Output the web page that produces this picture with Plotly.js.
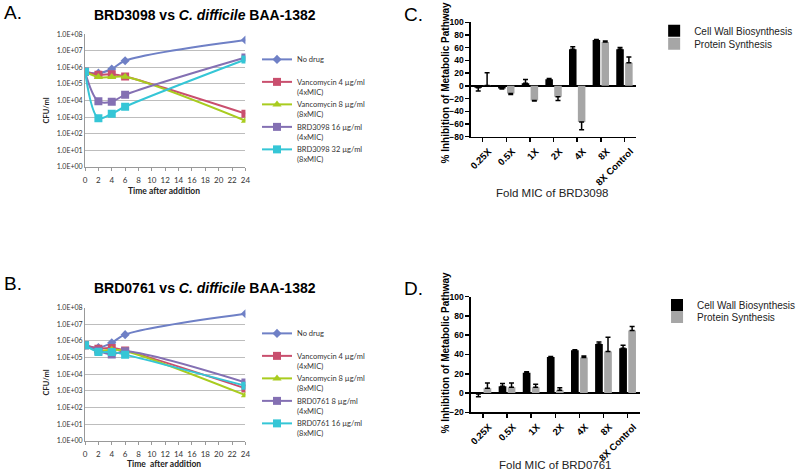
<!DOCTYPE html>
<html><head><meta charset="utf-8">
<script src="https://cdn.plot.ly/plotly-3.0.1.min.js"></script>
<style>html,body{margin:0;padding:0;background:#fff}</style>
</head><body><div id="chart" style="width:800px;height:470px"></div>
<script>
// ---------- Time-kill curves (panels A and B) ----------
const timeHours = [0, 2, 4, 6, 24];
const timeTicks = [0, 2, 4, 6, 8, 10, 12, 14, 16, 18, 20, 22, 24];
const logTickVals = [1, 10, 100, 1e3, 1e4, 1e5, 1e6, 1e7, 1e8];
const logTickText = ["1.0E+00", "1.0E+01", "1.0E+02", "1.0E+03", "1.0E+04", "1.0E+05", "1.0E+06", "1.0E+07", "1.0E+08"];

const seriesNamesA = ["No drug<br>\u00a0", "Vancomycin 4 µg/ml<br>(4xMIC)", "Vancomycin 8 µg/ml<br>(8xMIC)", "BRD3098 16 µg/ml<br>(4xMIC)", "BRD3098 32 µg/ml<br>(8xMIC)"];
const noDrugA = [5.5e5, 4.5e5, 8e5, 2.5e6, 4.5e7];
const vanc4A  = [5.5e5, 3.6e5, 3.8e5, 2.8e5, 1.6e3];
const vanc8A  = [5.5e5, 2.6e5, 2.6e5, 2.7e5, 6e2];
const brd16A  = [5.5e5, 9e3, 8.5e3, 2.2e4, 4e6];
const brd32A  = [5.5e5, 8.5e2, 1.6e3, 4.2e3, 3e6];

const seriesNamesB = ["No drug<br>\u00a0", "Vancomycin 4 µg/ml<br>(4xMIC)", "Vancomycin 8 µg/ml<br>(8xMIC)", "BRD0761 8 µg/ml<br>(4xMIC)", "BRD0761 16 µg/ml<br>(8xMIC)"];
const noDrugB = [5.5e5, 4e5, 7.8e5, 2.4e6, 4.3e7];
const vanc4B  = [5.5e5, 3.4e5, 3.8e5, 2.7e5, 1.4e3];
const vanc8B  = [5.5e5, 2.6e5, 3e5, 2.5e5, 5.5e2];
const brd8B   = [5.5e5, 2.6e5, 1.55e5, 2.4e5, 3.2e3];
const brd16B  = [5.5e5, 2.2e5, 2.2e5, 1.5e5, 2e3];

// ---------- Metabolic pathway inhibition (panels C and D) ----------
const micCategories = ["0.25X", "0.5X", "1X", "2X", "4X", "8X", "8X Control"];
const barNames = ["Cell Wall Biosynthesis", "Protein Synthesis"];
const cellWallC    = [-3, -4, 4, 10.5, 57.5, 72, 57.5];
const cellWallErrC = [5, 1, 6, 1, 4, 1, 3];
const proteinC     = [0.5, -12, -23, -17, -57, 69, 36.5];
const proteinErrC  = [20, 1.5, 1, 6, 12, 1.5, 9];
const cellWallD    = [-1, 7, 21, 37.5, 44.5, 51, 46.5];
const cellWallErrD = [2.8, 3, 1, 0.5, 0.5, 2, 3];
const proteinD     = [5, 6, 6, 3, 37, 43, 65];
const proteinErrD  = [5.5, 4.5, 3, 2.5, 1.5, 15, 4];

const lineColors = ["#6f80c6", "#c94f6e", "#a9cc1f", "#8470b3", "#35c6d6"];
const lineSymbols = ["diamond", "square", "triangle-up", "square", "square"];
const lineSizes = [7, 8, 8, 8, 8];

const W = 800, H = 470;
const px = v => v / W;
const py = v => 1 - v / H;

function lineTrace(y, i, names, xa, ya, leg) {
  return {
    type: "scatter", mode: "lines+markers", x: timeHours, y: y, name: names[i],
    xaxis: xa, yaxis: ya, legend: leg,
    line: {color: lineColors[i], width: 2, shape: "spline", smoothing: 1},
    marker: {color: lineColors[i], symbol: lineSymbols[i], size: lineSizes[i]},
    hoverinfo: "skip"
  };
}
function barTrace(y, err, name, color, xa, ya, leg) {
  return {
    type: "bar", x: micCategories, y: y, name: name, xaxis: xa, yaxis: ya, legend: leg,
    marker: {color: color, line: {width: 0}},
    error_y: {type: "data", symmetric: false,
      array: y.map((v, i) => v >= 0 ? err[i] : 0),
      arrayminus: y.map((v, i) => v < 0 ? err[i] : 0),
      color: "#000", thickness: 1.5, width: 2.5},
    hoverinfo: "skip"
  };
}

const data = [
  lineTrace(noDrugA, 0, seriesNamesA, "x", "y", "legend"),
  lineTrace(vanc4A, 1, seriesNamesA, "x", "y", "legend"),
  lineTrace(vanc8A, 2, seriesNamesA, "x", "y", "legend"),
  lineTrace(brd16A, 3, seriesNamesA, "x", "y", "legend"),
  lineTrace(brd32A, 4, seriesNamesA, "x", "y", "legend"),
  lineTrace(noDrugB, 0, seriesNamesB, "x2", "y2", "legend2"),
  lineTrace(vanc4B, 1, seriesNamesB, "x2", "y2", "legend2"),
  lineTrace(vanc8B, 2, seriesNamesB, "x2", "y2", "legend2"),
  lineTrace(brd8B, 3, seriesNamesB, "x2", "y2", "legend2"),
  lineTrace(brd16B, 4, seriesNamesB, "x2", "y2", "legend2"),
  barTrace(cellWallC, cellWallErrC, barNames[0], "#000000", "x3", "y3", "legend3"),
  barTrace(proteinC, proteinErrC, barNames[1], "#a6a6a6", "x3", "y3", "legend4"),
  barTrace(cellWallD, cellWallErrD, barNames[0], "#000000", "x4", "y4", "legend5"),
  barTrace(proteinD, proteinErrD, barNames[1], "#a6a6a6", "x4", "y4", "legend6")
];

const xlFont = {family: "Lato, 'Liberation Sans', sans-serif", size: 7.5, color: "#333"};
const gpFont = {family: "'Liberation Sans', Arial, sans-serif", size: 8.5, color: "#000", weight: 700};

function timeX(anchor) {
  return {domain: [px(88), px(254)], anchor: anchor, range: [0, 24], tickvals: timeTicks,
    showgrid: false, zeroline: false, showline: true, linecolor: "#999", linewidth: 1,
    ticks: "outside", ticklen: 3, tickcolor: "#999", ticklabelstandoff: 3,
    tickfont: {...xlFont, size: 8}, fixedrange: true};
}
function logY(anchor, top, bottom) {
  return {domain: [py(bottom), py(top)], anchor: anchor, type: "log", range: [0, 8],
    tickvals: logTickVals, ticktext: logTickText, showgrid: true, gridcolor: "#bdbdbd", gridwidth: 1,
    zeroline: false, showline: true, linecolor: "#999", ticks: "", tickfont: {...xlFont, size: 7}, fixedrange: true};
}
function catX(anchor, left, right) {
  return {domain: [px(left), px(right)], anchor: anchor, type: "category", range: [-0.5, 6.5],
    showgrid: false, zeroline: false, showline: true, linecolor: "#000", linewidth: 1.5,
    ticks: "outside", ticklen: 4, tickwidth: 1.5, tickcolor: "#000", tickangle: -45,
    ticklabelshift: 6, tickfont: {...gpFont, size: 9.5}, fixedrange: true};
}
function pctY(anchor, top, bottom, lo) {
  return {domain: [py(bottom), py(top)], anchor: anchor, range: [lo, 100], tick0: 0, dtick: 20,
    showgrid: false, zeroline: true, zerolinecolor: "#000", zerolinewidth: 1.5,
    showline: true, linecolor: "#000", linewidth: 1.5, ticks: "outside", ticklen: 4, tickwidth: 1.5,
    tickcolor: "#000", tickfont: gpFont, fixedrange: true};
}
function lineLegend(top) {
  return {x: px(266), y: py(top), xanchor: "left", yanchor: "top", valign: "top",
    font: xlFont, bgcolor: "rgba(0,0,0,0)", borderwidth: 0, tracegroupgap: 0, itemclick: false, itemdoubleclick: false};
}
function barLegend(left, cy) {
  return {x: px(left), y: py(cy), xanchor: "left", yanchor: "middle",
    font: {family: "'Liberation Sans', Arial, sans-serif", size: 10, color: "#222"},
    bgcolor: "rgba(0,0,0,0)", borderwidth: 0, itemclick: false, itemdoubleclick: false};
}

function ann(text, x, y, opts) {
  return Object.assign({text: text, x: px(x), y: py(y), xref: "paper", yref: "paper",
    showarrow: false, xanchor: "center", yanchor: "middle"}, opts || {});
}
const titleFont = {family: "'Liberation Sans', Arial, sans-serif", size: 14, color: "#000", weight: 700};
const labelFont = {family: "'Liberation Sans', Arial, sans-serif", size: 19, color: "#000"};

const layout = {
  width: W, height: H, margin: {l: 0, r: 0, t: 0, b: 0},
  paper_bgcolor: "#fff", plot_bgcolor: "rgba(0,0,0,0)",
  showlegend: true, barmode: "group", bargap: 0.25, bargroupgap: 0.15,
  xaxis: timeX("y"), yaxis: logY("x", 34.3, 166.7),
  xaxis2: timeX("y2"), yaxis2: logY("x2", 307.7, 440.7),
  xaxis3: catX("y3", 487.3, 658.5), yaxis3: pctY("x3", 22.3, 136.7, -80),
  xaxis4: catX("y4", 487.3, 662), yaxis4: pctY("x4", 296.7, 412.3, -20),
  legend: lineLegend(48), legend2: lineLegend(322),
  legend3: barLegend(677, 30.7), legend4: barLegend(677, 43.7),
  legend5: barLegend(680, 305), legend6: barLegend(680, 317),
  annotations: [
    ann("A.", 2, 13, {xanchor: "left", font: labelFont}),
    ann("B.", 2, 283, {xanchor: "left", font: labelFont}),
    ann("C.", 416, 15, {xanchor: "left", font: labelFont}),
    ann("D.", 416, 288, {xanchor: "left", font: labelFont}),
    ann("BRD3098 vs <i>C. difficile</i> BAA-1382", 212, 15, {font: titleFont}),
    ann("BRD0761 vs <i>C. difficile</i> BAA-1382", 212, 288, {font: titleFont}),
    ann("CFU/ml", 48, 110, {textangle: -90, font: {...xlFont, size: 7.5, weight: 700, color: "#222"}}),
    ann("CFU/ml", 48, 382, {textangle: -90, font: {...xlFont, size: 7.5, weight: 700, color: "#222"}}),
    ann("Time after addition", 170, 191, {font: {...xlFont, size: 8.5, weight: 700, color: "#222"}}),
    ann("Time\u00a0 after addition", 170, 464, {font: {...xlFont, size: 8.5, weight: 700, color: "#222"}}),
    ann("% Inhibition of Metabolic Pathway", 461, 82, {textangle: -90, font: {...gpFont, size: 10}}),
    ann("% Inhibition of Metabolic Pathway", 461, 352, {textangle: -90, font: {...gpFont, size: 10}}),
    ann("Fold MIC of BRD3098", 572, 193, {font: {family: "'Liberation Sans', Arial, sans-serif", size: 11.5, color: "#222"}}),
    ann("Fold MIC of BRD0761", 575, 465, {font: {family: "'Liberation Sans', Arial, sans-serif", size: 11.5, color: "#222"}})
  ]
};

Plotly.newPlot("chart", data, layout, {staticPlot: true, displayModeBar: false});
</script>
</body></html>
